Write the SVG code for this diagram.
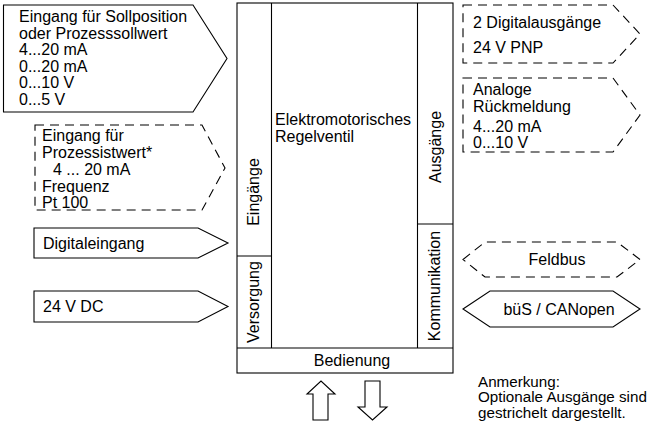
<svg xmlns="http://www.w3.org/2000/svg" width="653" height="425" viewBox="0 0 653 425">
<style>
  text { font-family: "Liberation Sans", Arial, sans-serif; font-size: 16px; fill: #000; }
  .solid { fill: #fff; stroke: #000; stroke-width: 1.1; }
  .dash { fill: #fff; stroke: #000; stroke-width: 1.1; stroke-dasharray: 9 6; }
  .line { fill: none; stroke: #000; stroke-width: 1.1; }
  .note { font-size: 15.2px; }
</style>
<rect width="653" height="425" fill="#fff"/>
<g id="main">
  <rect class="solid" x="237" y="3" width="216" height="370"/>
  <line class="line" x1="271.5" y1="3" x2="271.5" y2="348"/>
  <line class="line" x1="417.5" y1="3" x2="417.5" y2="348"/>
  <line class="line" x1="237" y1="348" x2="453" y2="348"/>
  <line class="line" x1="237" y1="256" x2="271.5" y2="256"/>
  <line class="line" x1="417.5" y1="224" x2="453" y2="224"/>
  <text x="275" y="125">Elektromotorisches</text>
  <text x="275" y="142">Regelventil</text>
  <text transform="translate(259,192) rotate(-90)" text-anchor="middle">Eingänge</text>
  <text transform="translate(259,302) rotate(-90)" text-anchor="middle">Versorgung</text>
  <text transform="translate(441,147) rotate(-90)" text-anchor="middle">Ausgänge</text>
  <text transform="translate(440,286) rotate(-90)" text-anchor="middle">Kommunikation</text>
  <text x="352" y="366" text-anchor="middle">Bedienung</text>
</g>
<g id="in-sollposition">
  <polygon class="solid" points="3.5,5 193,5 227,58.5 193,112 3.5,112"/>
  <text x="19" y="22">Eingang für Sollposition</text>
  <text x="19" y="38.5">oder Prozesssollwert</text>
  <text x="19" y="55">4...20 mA</text>
  <text x="19" y="71.5">0...20 mA</text>
  <text x="19" y="88">0...10 V</text>
  <text x="19" y="104.5">0...5 V</text>
</g>
<g id="in-prozessistwert">
  <polygon class="dash" points="35,125 202,125 225,168 202,210 35,210"/>
  <text x="42" y="141">Eingang für</text>
  <text x="42" y="158">Prozessistwert*</text>
  <text x="53" y="175">4 ... 20 mA</text>
  <text x="42" y="192">Frequenz</text>
  <text x="42" y="208">Pt 100</text>
</g>
<g id="in-digital">
  <polygon class="solid" points="34,228 198,228 228,243 198,258 34,258"/>
  <text x="43" y="248.5">Digitaleingang</text>
</g>
<g id="in-power">
  <polygon class="solid" points="34,291 198,291 228,306.5 198,322 34,322"/>
  <text x="43" y="312">24 V DC</text>
</g>
<g id="out-digital">
  <polygon class="dash" points="463,5 613,5 640,34 613,63 463,63"/>
  <text x="473" y="28">2 Digitalausgänge</text>
  <text x="473" y="53">24 V PNP</text>
</g>
<g id="out-analog">
  <polygon class="dash" points="463,78 613,78 640,115 613,152 463,152"/>
  <text x="473" y="95">Analoge</text>
  <text x="473" y="112">Rückmeldung</text>
  <text x="473" y="132">4...20 mA</text>
  <text x="473" y="148">0...10 V</text>
</g>
<g id="feldbus">
  <polygon class="dash" points="463,259.5 485,242 617,242 640,259.5 617,277 485,277"/>
  <text x="557" y="265" text-anchor="middle">Feldbus</text>
</g>
<g id="bues">
  <polygon class="solid" points="463,309 490,291 613,291 640,309 613,327 490,327"/>
  <text x="559" y="315" text-anchor="middle">büS / CANopen</text>
</g>
<g id="connectors">
  <polygon class="solid" points="313,420 313,394 307,394 321,381 335,394 328,394 328,420"/>
  <polygon class="solid" points="365,381 380,381 380,407 387,407 372.5,420 358,407 365,407"/>
</g>
<g id="note">
  <text class="note" x="478" y="386.5">Anmerkung:</text>
  <text class="note" x="478" y="402">Optionale Ausgänge sind</text>
  <text class="note" x="478" y="417.6">gestrichelt dargestellt.</text>
</g>
</svg>
